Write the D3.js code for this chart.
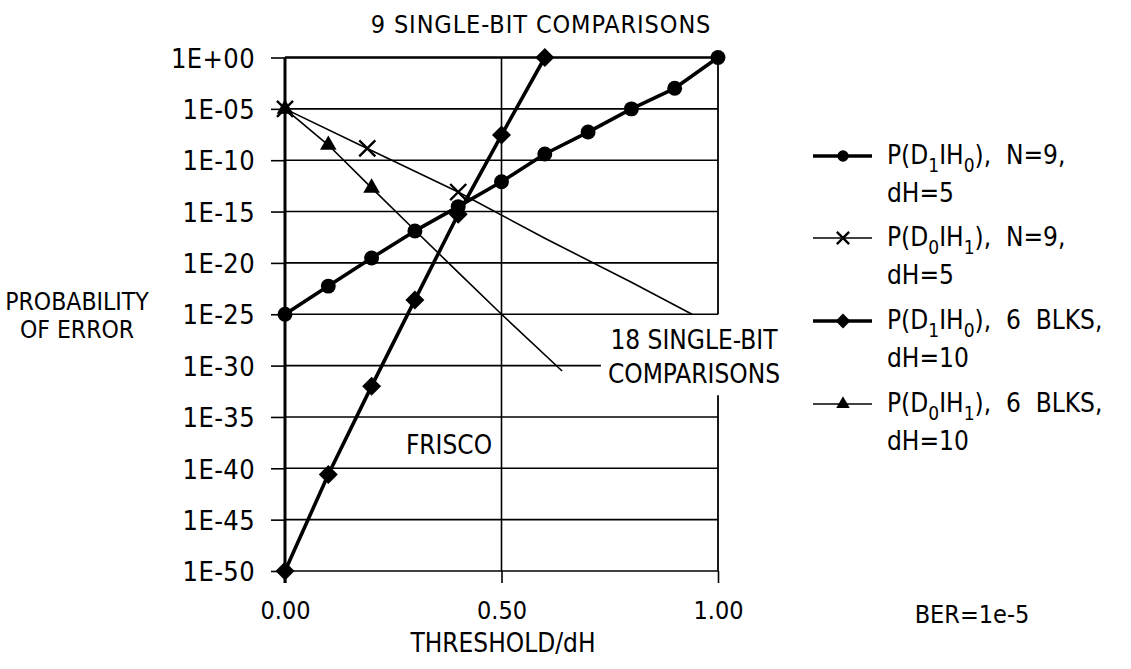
<!DOCTYPE html>
<html>
<head>
<meta charset="utf-8">
<script src="https://cdn.jsdelivr.net/npm/d3@7"></script>
<style>
  body { margin: 0; background: #fff; }
  text { font-family: "Liberation Sans Narrow", "DejaVu Sans Condensed", "Liberation Sans", sans-serif; fill: #000; white-space: pre; }
</style>
</head>
<body>
<svg id="chart" width="1131" height="669"></svg>
<script>
// threshold/dH values and probabilities
var thrN9 = [0, 0.1, 0.2, 0.3, 0.4, 0.5, 0.6, 0.7, 0.8, 0.9, 1.0];
var pD1H0_N9 = [1e-25, 5.5e-23, 3e-20, 1.3e-17, 3e-15, 8e-13, 4e-10, 5.5e-8, 1e-5, 1e-3, 1];

var thrBlk = [0, 0.1, 0.2, 0.3, 0.4, 0.5, 0.6];
var pD1H0_Blk = [1e-50, 2.5e-41, 1e-32, 2.5e-24, 5.5e-16, 2.8e-8, 1];

// marked points, then the unmarked continuation of the same curve
var thrD0N9 = [0, 0.19, 0.4];
var pD0H1_N9 = [1e-5, 1.4e-9, 8e-14];
var thrD0N9Tail = [0.6, 0.8, 0.94];
var pD0H1_N9Tail = [2.5e-18, 1.3e-22, 1e-25];

var thrD0Blk = [0, 0.1, 0.2];
var pD0H1_Blk = [1e-5, 3e-9, 2e-13];
var thrD0BlkTail = [0.3, 0.4, 0.5, 0.64];
var pD0H1_BlkTail = [1.5e-17, 1.2e-21, 1e-25, 3e-31];

var yTickValues = [1, 1e-5, 1e-10, 1e-15, 1e-20, 1e-25, 1e-30, 1e-35, 1e-40, 1e-45, 1e-50];
var yTickLabels = ["1E+00", "1E-05", "1E-10", "1E-15", "1E-20", "1E-25", "1E-30", "1E-35", "1E-40", "1E-45", "1E-50"];
var xTickValues = [0, 0.5, 1];
var xTickLabels = ["0.00", "0.50", "1.00"];

var legendSubD = ["1", "0", "1", "0"];
var legendSubH = ["0", "1", "0", "1"];
var legendTail = ",  N=9,|,  N=9,|,  6  BLKS,|,  6  BLKS,".split("|");
var legendLine2 = ["dH=5", "dH=5", "dH=10", "dH=10"];

function draw() {
	var svg = d3.select("#chart"),
		pLeft = 285, pRight = 718, pTop = 57.5, pBottom = 571;

	svg.append("rect").attr("width", 1131).attr("height", 669).attr("fill", "#fff");

	var x = d3.scaleLinear().domain([0, 1]).range([pLeft, pRight]);
	var y = d3.scaleLog().domain([1e-50, 1]).range([pBottom, pTop]);

	var g = svg.append("g");

	// "18 SINGLE-BIT COMPARISONS" label, placed first so the grid can stop short of it
	var note18 = svg.append("text")
		.attr("text-anchor", "middle")
		.attr("font-size", 26);
	note18.append("tspan").attr("x", pRight - 24).attr("y", y(1e-25) + 35).text("18 SINGLE-BIT");
	note18.append("tspan").attr("x", pRight - 24).attr("y", y(1e-25) + 69).text("COMPARISONS");
	var nb = note18.node().getBBox();

	// horizontal grid
	g.selectAll(".hgrid")
		.data(yTickValues)
		.enter().append("line")
			.attr("class", "hgrid")
			.attr("x1", pLeft)
			.attr("x2", function(d) {
				var yy = y(d);
				return (yy > nb.y && yy < nb.y + nb.height) ? nb.x - 7 : pRight;
			})
			.attr("y1", function(d) { return y(d); })
			.attr("y2", function(d) { return y(d); })
			.attr("stroke", "#000")
			.attr("stroke-width", function(d) { return d === 1 ? 2.4 : 1.6; });

	// vertical grid at 0.50, right border broken around the label
	g.append("line")
		.attr("x1", x(0.5)).attr("x2", x(0.5))
		.attr("y1", pTop).attr("y2", pBottom)
		.attr("stroke", "#000").attr("stroke-width", 1.6);
	g.append("line")
		.attr("x1", x(1)).attr("x2", x(1))
		.attr("y1", pTop).attr("y2", y(1e-25))
		.attr("stroke", "#000").attr("stroke-width", 1.8);
	g.append("line")
		.attr("x1", x(1)).attr("x2", x(1))
		.attr("y1", nb.y + nb.height + 6).attr("y2", pBottom)
		.attr("stroke", "#000").attr("stroke-width", 1.8);

	// axes
	var yAxis = g.append("g")
		.attr("transform", "translate(" + pLeft + ",0)")
		.call(d3.axisLeft(y)
			.tickValues(yTickValues)
			.tickFormat(function(d, i) { return yTickLabels[i]; })
			.tickSize(14)
			.tickPadding(16));
	yAxis.select(".domain").remove();
	yAxis.selectAll("line").attr("stroke-width", 1.6);
	yAxis.selectAll("text")
		.attr("font-size", 27)
		.attr("font-family", null)
		.attr("letter-spacing", 0.4)
		.attr("dy", "0.36em");

	var xAxis = g.append("g")
		.attr("transform", "translate(0," + pBottom + ")")
		.call(d3.axisBottom(x)
			.tickValues(xTickValues)
			.tickFormat(function(d, i) { return xTickLabels[i]; })
			.tickSize(12)
			.tickPadding(18));
	xAxis.select(".domain").remove();
	xAxis.selectAll("line").attr("stroke-width", 1.6);
	xAxis.selectAll("text").attr("font-size", 25).attr("font-family", null);

	g.append("line")
		.attr("x1", pLeft).attr("x2", pLeft)
		.attr("y1", pTop).attr("y2", pBottom + 12)
		.attr("stroke", "#000").attr("stroke-width", 3);

	// series
	function pts(xs, ys) { return xs.map(function(d, i) { return [d, ys[i]]; }); }
	var line = d3.line()
		.x(function(d) { return x(d[0]); })
		.y(function(d) { return y(d[1]); });

	var series = [
		{ pts: pts(thrN9, pD1H0_N9), tail: [], width: 3.6, sym: d3.symbolCircle, size: 175, legendSize: 100 },
		{ pts: pts(thrD0N9, pD0H1_N9), tail: pts(thrD0N9Tail, pD0H1_N9Tail), width: 1.6, sym: d3.symbolTimes, size: 170, legendSize: 100 },
		{ pts: pts(thrBlk, pD1H0_Blk), tail: [], width: 3.6, sym: d3.symbolSquare, size: 180, legendSize: 110, rot: 45 },
		{ pts: pts(thrD0Blk, pD0H1_Blk), tail: pts(thrD0BlkTail, pD0H1_BlkTail), width: 1.6, sym: d3.symbolTriangle, size: 120, legendSize: 80 }
	];

	function drawMarker(sel, s, size) {
		return sel.append("path")
			.attr("d", d3.symbol().type(s.sym).size(size)())
			.attr("fill", s.sym === d3.symbolTimes ? "none" : "#000")
			.attr("stroke", "#000")
			.attr("stroke-width", s.sym === d3.symbolTimes ? 2.4 : 0);
	}

	var sg = g.selectAll(".series")
		.data(series)
		.enter().append("g")
			.attr("class", "series");

	sg.append("path")
		.attr("d", function(d) { return line(d.pts.concat(d.tail)); })
		.attr("fill", "none")
		.attr("stroke", "#000")
		.attr("stroke-width", function(d) { return d.width; })
		.attr("stroke-linejoin", "round");

	sg.each(function(s) {
		var grp = d3.select(this);
		s.pts.forEach(function(p) {
			drawMarker(grp, s, s.size)
				.attr("transform", "translate(" + x(p[0]) + "," + y(p[1]) + ")" + (s.rot ? " rotate(" + s.rot + ")" : ""));
		});
	});

	// legend
	var lg = svg.append("g").attr("transform", "translate(813,0)");
	var legendRows = [156, 238, 321, 404];
	series.forEach(function(s, i) {
		var row = lg.append("g").attr("transform", "translate(0," + legendRows[i] + ")");
		row.append("line")
			.attr("x1", 0).attr("x2", 59)
			.attr("stroke", "#000")
			.attr("stroke-width", s.width);
		drawMarker(row, s, s.legendSize)
			.attr("transform", "translate(30,0)" + (s.rot ? " rotate(" + s.rot + ")" : ""));
		var t = row.append("text").attr("x", 74).attr("y", 8).attr("font-size", 26);
		t.append("tspan").text("P(D");
		t.append("tspan").attr("font-size", 19).attr("dy", 8).text(legendSubD[i]);
		t.append("tspan").attr("dy", -8).text("IH");
		t.append("tspan").attr("font-size", 19).attr("dy", 8).text(legendSubH[i]);
		t.append("tspan").attr("dy", -8).text(")" + legendTail[i]);
		row.append("text").attr("x", 74).attr("y", 46).attr("font-size", 26).text(legendLine2[i]);
	});

	// annotations
	svg.append("text")
		.attr("x", 541).attr("y", 33)
		.attr("text-anchor", "middle")
		.attr("font-size", 25)
		.attr("letter-spacing", 0.9)
		.text("9 SINGLE-BIT COMPARISONS");

	svg.append("text")
		.attr("x", 449).attr("y", 454)
		.attr("text-anchor", "middle")
		.attr("font-size", 26)
		.text("FRISCO");

	var yt = svg.append("text").attr("text-anchor", "middle").attr("font-size", 24.5);
	yt.append("tspan").attr("x", 77).attr("y", 310).text("PROBABILITY");
	yt.append("tspan").attr("x", 77).attr("y", 338).text("OF ERROR");

	svg.append("text")
		.attr("x", 503).attr("y", 652)
		.attr("text-anchor", "middle")
		.attr("font-size", 26)
		.text("THRESHOLD/dH");

	svg.append("text")
		.attr("x", 972).attr("y", 623)
		.attr("text-anchor", "middle")
		.attr("font-size", 25)
		.text("BER=1e-5");
}

draw();
</script>
</body>
</html>
